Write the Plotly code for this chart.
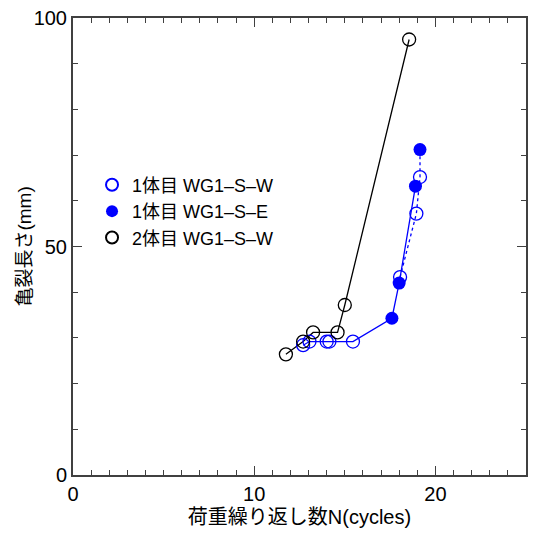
import plotly.graph_objects as go

# 1体目 WG1-S-W (open blue)
w_x = [12.7, 13.05, 14.0, 14.15, 15.45, 18.05, 18.95, 19.15]
w_y = [28.4, 29.2, 29.2, 29.2, 29.2, 43.3, 57.2, 65.2]
# 1体目 WG1-S-E (filled blue)
e_x = [17.6, 18.0, 18.9, 19.15]
e_y = [34.3, 42.0, 63.2, 71.2]
# 2体目 WG1-S-W (open black)
n2_x = [11.75, 12.7, 13.25, 14.6, 15.0, 18.55]
n2_y = [26.4, 29.2, 31.2, 31.2, 37.2, 95.3]

names = ["1体目 WG1–S–W", "1体目 WG1–S–E", "2体目 WG1–S–W"]
x_title = "荷重繰り返し数N(cycles)"
y_title = "亀裂長さ(mm)"
BLUE = "#0000ff"
FONT = "Arial, 'Liberation Sans', 'Noto Sans CJK JP'"

fig = go.Figure()
# connecting lines
fig.add_trace(go.Scatter(x=w_x[:5] + e_x[:3], y=w_y[:5] + e_y[:3], mode="lines",
                         line=dict(color=BLUE, width=1.3), showlegend=False, hoverinfo="skip"))
fig.add_trace(go.Scatter(x=w_x[5:] + e_x[3:], y=w_y[5:] + e_y[3:], mode="lines",
                         line=dict(color=BLUE, width=1.3, dash="3px,3px"), showlegend=False, hoverinfo="skip"))
fig.add_trace(go.Scatter(x=n2_x, y=n2_y, mode="lines",
                         line=dict(color="black", width=1.3), showlegend=False, hoverinfo="skip"))
# markers
fig.add_trace(go.Scatter(x=w_x, y=w_y, mode="markers", name=names[0],
                         marker=dict(symbol="circle-open", size=13, color=BLUE, line=dict(width=1.3))))
fig.add_trace(go.Scatter(x=e_x, y=e_y, mode="markers", name=names[1],
                         marker=dict(symbol="circle", size=13, color=BLUE)))
fig.add_trace(go.Scatter(x=n2_x, y=n2_y, mode="markers", name=names[2],
                         marker=dict(symbol="circle-open", size=13, color="black", line=dict(width=1.3))))

axis_common = dict(showgrid=False, zeroline=False, showline=True, linecolor="#404040", linewidth=2,
                   mirror="allticks", ticks="inside", tickcolor="#404040", tickwidth=1.3,
                   tickfont=dict(size=20, color="black", family=FONT))

fig.update_xaxes(range=[0, 25], tick0=0, dtick=10, ticklen=9,
                 minor=dict(dtick=1, ticks="inside", ticklen=5, tickcolor="#404040", tickwidth=1.2),
                 title=dict(text=x_title, font=dict(size=20, color="black", family=FONT), standoff=6),
                 **axis_common)
fig.update_yaxes(range=[0, 100], tick0=0, dtick=50, ticklen=9,
                 minor=dict(dtick=10, ticks="inside", ticklen=5, tickcolor="#404040", tickwidth=1.2),
                 **axis_common)

fig.add_annotation(text=y_title, xref="paper", yref="paper", x=-0.108, y=0.50,
                   xanchor="center", yanchor="middle", textangle=-90, showarrow=False,
                   font=dict(size=19, color="black", family=FONT))

fig.update_layout(
    width=533, height=536,
    margin=dict(l=73, r=5, t=18, b=61),
    plot_bgcolor="white", paper_bgcolor="white",
    font=dict(family=FONT, color="black"),
    legend=dict(x=0.042, y=0.675, xanchor="left", yanchor="top", bgcolor="rgba(0,0,0,0)",
                font=dict(size=18, color="black", family=FONT), tracegroupgap=0, itemsizing="constant"),
)

fig.write_html("out.html")
